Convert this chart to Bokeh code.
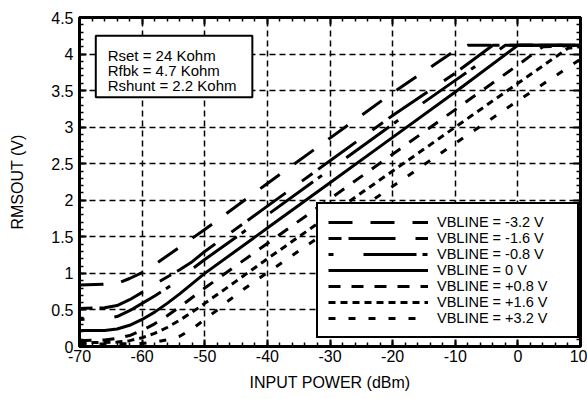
from bokeh.plotting import figure
from bokeh.models import (FixedTicker, CustomJSTickFormatter, LinearAxis, Legend, LegendItem,
                          BoxAnnotation, Label, Range1d)
from bokeh.embed import file_html
from bokeh.resources import INLINE

# ---- data ----
x_ticks = [-70, -60, -50, -40, -30, -20, -10, 0, 10]
y_ticks = [0, 0.5, 1, 1.5, 2, 2.5, 3, 3.5, 4, 4.5]
x_minor = list(range(-70, 11, 2))
y_minor = [round(i * 0.1, 1) for i in range(46)]

labels = ["VBLINE = -3.2 V", "VBLINE = -1.6 V", "VBLINE = -0.8 V", "VBLINE = 0 V",
          "VBLINE = +0.8 V", "VBLINE = +1.6 V", "VBLINE = +3.2 V"]

x_m32 = [-70, -64, -62, -60, -58, -55, -52, -50, -40, -30, -20, -10, -8, 10]
y_m32 = [0.84, 0.86, 0.93, 1.01, 1.12, 1.30, 1.48, 1.60, 2.23, 2.85, 3.47, 4.05, 4.12, 4.12]

x_m16 = [-70, -66, -64, -62, -60, -58, -56, -54, -52, -50, -40, -30, -20, -10, -4, 10]
y_m16 = [0.52, 0.53, 0.56, 0.64, 0.74, 0.85, 0.95, 1.05, 1.16, 1.30, 1.92, 2.54, 3.16, 3.74, 4.12, 4.12]

x_m08 = [-70, -66, -64, -62, -60, -58, -56, -54, -52, -50, -40, -30, -20, -10, -2, 10]
y_m08 = [0.37, 0.38, 0.41, 0.49, 0.59, 0.69, 0.80, 0.92, 1.06, 1.19, 1.80, 2.42, 3.04, 3.64, 4.12, 4.12]

x_0 = [-70, -66, -64, -62, -60, -58, -56, -54, -52, -50, -40, -30, -20, -10, 0, 10]
y_0 = [0.22, 0.22, 0.24, 0.29, 0.37, 0.47, 0.59, 0.72, 0.86, 1.00, 1.62, 2.24, 2.86, 3.48, 4.12, 4.12]

x_p08 = [-70, -66, -64, -62, -60, -58, -56, -54, -52, -50, -40, -30, -20, -10, 0, 4, 10]
y_p08 = [0.08, 0.09, 0.11, 0.15, 0.22, 0.31, 0.42, 0.54, 0.67, 0.80, 1.41, 2.02, 2.63, 3.24, 3.85, 4.10, 4.12]

x_p16 = [-70, -64, -62, -60, -58, -56, -54, -52, -50, -48, -40, -30, -20, -10, 0, 8, 10]
y_p16 = [0.05, 0.06, 0.08, 0.12, 0.18, 0.26, 0.36, 0.47, 0.59, 0.71, 1.20, 1.80, 2.40, 3.00, 3.60, 4.08, 4.10]

x_p32 = [-70, -60, -58, -56, -54, -52, -50, -48, -46, -44, -40, -30, -20, -10, 0, 10]
y_p32 = [0.03, 0.04, 0.06, 0.09, 0.14, 0.24, 0.37, 0.50, 0.64, 0.77, 1.01, 1.60, 2.19, 2.78, 3.36, 3.93]

series_x = [x_m32, x_m16, x_m08, x_0, x_p08, x_p16, x_p32]
series_y = [y_m32, y_m16, y_m08, y_0, y_p08, y_p16, y_p32]

# ---- styles ----
dashes = ["24 18", "13 7 47 20", "5 30 53 6", "solid", "12 11", "7 5", "7 13"]
FONT = "Liberation Sans"

p = figure(width=587, height=399, output_backend="svg", toolbar_location=None,
           x_range=Range1d(-70, 10), y_range=Range1d(0, 4.5),
           min_border_left=79, min_border_right=7, min_border_top=17, min_border_bottom=53)
p.outline_line_color = "black"
p.outline_line_alpha = 1
p.outline_line_width = 3
p.background_fill_color = "white"
p.border_fill_color = "white"

xt = FixedTicker(ticks=x_ticks, minor_ticks=x_minor)
yt = FixedTicker(ticks=y_ticks, minor_ticks=y_minor)
fmt = CustomJSTickFormatter(code="return tick.toString();")


def style_axis(ax):
    ax.axis_line_color = "black"
    ax.axis_line_width = 2
    ax.major_tick_in = 7
    ax.major_tick_out = 0
    ax.minor_tick_in = 4
    ax.minor_tick_out = 0
    ax.major_tick_line_width = 2
    ax.minor_tick_line_width = 1.5
    ax.major_tick_line_color = "black"
    ax.minor_tick_line_color = "black"
    ax.major_label_text_font = FONT
    ax.major_label_text_font_size = "16px"
    ax.major_label_text_color = "black"
    ax.axis_label_text_font = FONT
    ax.axis_label_text_font_size = "16px"
    ax.axis_label_text_font_style = "normal"
    ax.axis_label_text_color = "black"


p.xaxis.ticker = xt
p.yaxis.ticker = yt
p.xaxis.formatter = fmt
p.yaxis.formatter = fmt
for ax in p.xaxis + p.yaxis:
    style_axis(ax)
p.xaxis.axis_label = "INPUT POWER (dBm)"
p.yaxis.axis_label = "RMSOUT (V)"
p.xaxis.major_label_standoff = 3
p.xaxis.axis_label_standoff = 9
p.yaxis.major_label_standoff = 6
p.yaxis.axis_label_standoff = 22

blank = CustomJSTickFormatter(code="return '';")
for loc, tk in (("right", yt), ("above", xt)):
    ax = LinearAxis(ticker=tk, formatter=blank)
    style_axis(ax)
    ax.major_label_standoff = 0
    p.add_layout(ax, loc)

for g, tk in ((p.xgrid, xt), (p.ygrid, yt)):
    g.ticker = tk
    g.grid_line_color = "black"
    g.grid_line_alpha = 1
    g.grid_line_width = 1.5
    g.grid_line_dash = "6 4"

renderers = []
for xs, ys, d in zip(series_x, series_y, dashes):
    r = p.line(xs, ys, line_width=3, line_color="black", line_dash=d, line_cap="butt")
    renderers.append(r)

legend = Legend(items=[LegendItem(label=l, renderers=[r]) for l, r in zip(labels, renderers)],
                location=(237, 8), margin=0, padding=10, spacing=0,
                glyph_width=100, glyph_height=12, label_height=12, label_width=130,
                label_standoff=9,
                label_text_font=FONT, label_text_font_size="14.5px", label_text_color="black",
                border_line_color="black", border_line_alpha=1, border_line_width=2,
                background_fill_color="white", background_fill_alpha=1)
p.add_layout(legend)

box = BoxAnnotation(left=-67.4, right=-42.4, top=4.25, bottom=3.41,
                    fill_color="white", fill_alpha=1, line_color="black", line_alpha=1, line_width=2)
p.add_layout(box)
p.add_layout(Label(x=-65.5, y=4.09, text="Rset = 24 Kohm\nRfbk = 4.7 Kohm\nRshunt = 2.2 Kohm",
                   text_font=FONT, text_font_size="15px", text_baseline="top", text_align="left",
                   text_line_height=0.86, text_color="black"))

open("out.html", "w").write(file_html(p, INLINE))
